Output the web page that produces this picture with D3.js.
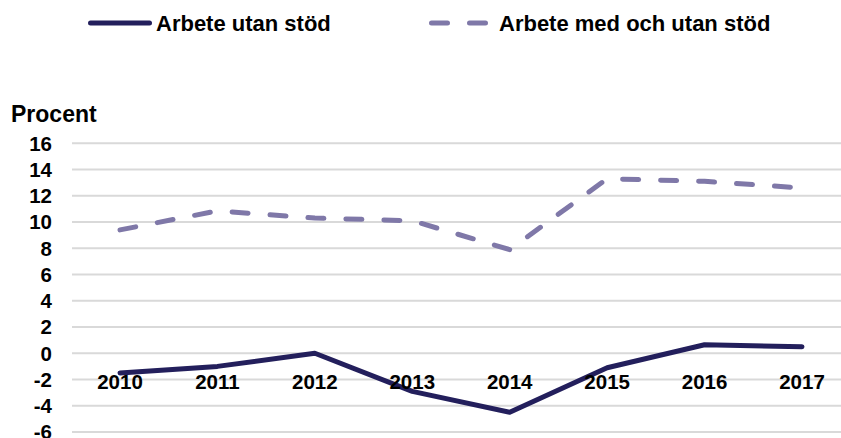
<!DOCTYPE html>
<html lang="sv">
<head>
<meta charset="utf-8">
<title>Arbete utan stöd</title>
<style>
  body { margin: 0; background: #fff; }
  svg { display: block; font-family: "Liberation Sans", Arial, sans-serif; font-weight: bold; }
  .grid line { stroke: #d9d9d9; stroke-width: 2; }
  .tick-label { font-size: 20.5px; fill: #000; }
</style>
</head>
<body>
<div id="chart"></div>
<script src="https://cdn.jsdelivr.net/npm/d3@7"></script>
<script>

var width = 841, height = 438;

// ------ data --------
var years = ["2010", "2011", "2012", "2013", "2014", "2015", "2016", "2017"];
var utanStod = [-1.5, -1.0, 0.0, -2.9, -4.5, -1.1, 0.65, 0.5];
var medOchUtanStod = [9.4, 10.85, 10.3, 10.1, 7.9, 13.3, 13.1, 12.6];
var yTicks = [16, 14, 12, 10, 8, 6, 4, 2, 0, -2, -4, -6];
// --------------------

var series = [
  { name: "Arbete utan stöd", values: utanStod, color: "#231f5c", dash: null },
  { name: "Arbete med och utan stöd", values: medOchUtanStod, color: "#7f78a8", dash: "16 22" }
];

var svg = d3.select("#chart").append("svg")
    .attr("width", width)
    .attr("height", height);

var x = d3.scalePoint()
    .domain(years)
    .range([120, 802]);

var y = d3.scaleLinear()
    .domain([-6, 16])
    .range([432, 143.3]);

// grid
svg.append("g").attr("class", "grid")
  .selectAll("line").data(yTicks).enter().append("line")
    .attr("x1", 72).attr("x2", width)
    .attr("y1", function(d){ return y(d); })
    .attr("y2", function(d){ return y(d); });

// y tick labels
svg.append("g").selectAll("text").data(yTicks).enter().append("text")
    .attr("class", "tick-label")
    .attr("x", 52)
    .attr("y", function(d){ return y(d); })
    .attr("dy", "0.36em")
    .attr("text-anchor", "end")
    .text(function(d){ return d; });

svg.append("text")
    .attr("x", 11).attr("y", 122)
    .style("font-size", "23px")
    .text("Procent");

// lines
var line = d3.line()
    .x(function(d, i){ return x(years[i]); })
    .y(function(d){ return y(d); });

series.forEach(function(s){
  svg.append("path")
    .datum(s.values)
    .attr("d", line)
    .attr("fill", "none")
    .attr("stroke", s.color)
    .attr("stroke-width", 5)
    .attr("stroke-linecap", "round")
    .attr("stroke-linejoin", "round")
    .attr("stroke-dasharray", s.dash);
});

// x labels (drawn over the lines, like the original)
svg.append("g").selectAll("text").data(years).enter().append("text")
    .attr("class", "tick-label")
    .attr("x", function(d){ return x(d); })
    .attr("y", 388.5)
    .attr("text-anchor", "middle")
    .text(function(d){ return d; });

// legend
var legendPos = [{ x1: 88, x2: 152, tx: 156 }, { x1: 429, x2: 490, tx: 499 }];
series.forEach(function(s, i){
  var p = legendPos[i];
  svg.append("line")
    .attr("x1", p.x1 + 2.5).attr("x2", p.x2 - 2.5)
    .attr("y1", 23).attr("y2", 23)
    .attr("stroke", s.color)
    .attr("stroke-width", 5)
    .attr("stroke-linecap", "round")
    .attr("stroke-dasharray", s.dash);
  svg.append("text")
    .attr("x", p.tx).attr("y", 31)
    .style("font-size", "22px")
    .text(s.name);
});

</script>
</body>
</html>
